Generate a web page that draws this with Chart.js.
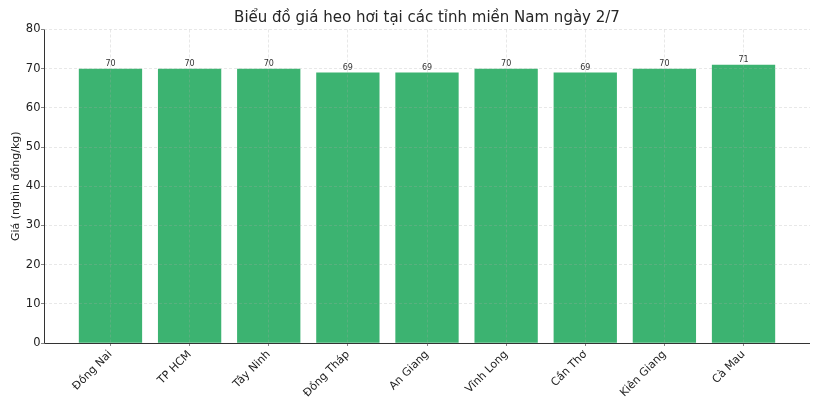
<!DOCTYPE html>
<html>
<head>
<meta charset="utf-8">
<script src="https://cdn.jsdelivr.net/npm/chart.js@4/dist/chart.umd.min.js"></script>
<style>
html,body{margin:0;padding:0;background:#fff;}
#c{display:block;}
</style>
</head>
<body>
<canvas id="c" width="820" height="410"></canvas>
<script>
const titleText = "Biểu đồ giá heo hơi tại các tỉnh miền Nam ngày 2/7";
const yAxisTitle = "Giá (nghìn đồng/kg)";
const provinces = ["Đồng Nai","TP HCM","Tây Ninh","Đồng Tháp","An Giang","Vĩnh Long","Cần Thơ","Kiên Giang","Cà Mau"];
const prices = [70,70,70,69,69,70,69,70,71];
const yTicks = [0,10,20,30,40,50,60,70,80];

const FONT = "'DejaVu Sans', sans-serif";
const points = provinces.map((p,i)=>({x:i, y:prices[i]}));

const valueLabels = {
  id:'valueLabels',
  afterDatasetsDraw(chart){
    const ctx = chart.ctx;
    const meta = chart.getDatasetMeta(0);
    ctx.save();
    ctx.font = "8px " + FONT;
    ctx.fillStyle = "#333";
    ctx.textAlign = "center";
    ctx.textBaseline = "bottom";
    meta.data.forEach((bar,i)=>{
      ctx.fillText(String(prices[i]), bar.x, bar.y - 1);
    });
    ctx.restore();
  }
};

const spines = {
  id:'spines',
  afterDraw(chart){
    const {ctx, chartArea:a} = chart;
    ctx.save();
    ctx.strokeStyle = '#333';
    ctx.lineWidth = 1;
    ctx.setLineDash([]);
    ctx.beginPath();
    ctx.moveTo(Math.round(a.left)+0.5, a.top);
    ctx.lineTo(Math.round(a.left)+0.5, Math.round(a.bottom)+0.5);
    ctx.lineTo(a.right, Math.round(a.bottom)+0.5);
    ctx.stroke();
    ctx.restore();
  }
};

new Chart(document.getElementById('c'), {
  type:'bar',
  data:{
    datasets:[{
      data: points,
      backgroundColor:'#3cb371',
      borderWidth:0,
      barPercentage:0.8,
      categoryPercentage:1.0
    }]
  },
  options:{
    responsive:false,
    animation:false,
    devicePixelRatio:1,
    layout:{padding:{left:0,right:10,top:0,bottom:0}},
    plugins:{
      legend:{display:false},
      tooltip:{enabled:false},
      title:{
        display:true,
        text:titleText,
        fullSize:false,
        color:'#262626',
        font:{family:FONT,size:15,weight:'normal'},
        padding:{top:9,bottom:2.5}
      }
    },
    scales:{
      x:{
        type:'linear',
        min:-0.84,
        max:8.84,
        offset:false,
        afterBuildTicks(axis){ axis.ticks = provinces.map((_,i)=>({value:i})); },
        afterFit(axis){ axis.height = 67; },
        ticks:{
          autoSkip:false,
          maxRotation:45,
          minRotation:45,
          padding:2,
          color:'#222',
          font:{family:FONT,size:11},
          callback:(v)=>provinces[v] !== undefined ? provinces[v] : ''
        },
        grid:{
          offset:false,
          z:1,
          color:'rgba(170,170,170,0.45)',
          lineWidth:0.6,
          drawTicks:true,
          tickLength:3,
          tickColor:'#333',
          tickBorderDash:[]
        },
        border:{display:false,dash:[3,2]}
      },
      y:{
        min:0,
        max:80,
        afterBuildTicks(axis){ axis.ticks = yTicks.map(v=>({value:v})); },
        afterFit(axis){ axis.width = 44; },
        ticks:{
          padding:0.5,
          color:'#222',
          font:{family:FONT,size:11.5}
        },
        title:{
          display:true,
          text:yAxisTitle,
          color:'#222',
          font:{family:FONT,size:11},
          padding:{top:10,bottom:2}
        },
        grid:{
          z:1,
          color:'rgba(170,170,170,0.45)',
          lineWidth:0.6,
          drawTicks:true,
          tickLength:3,
          tickColor:'#333',
          tickBorderDash:[]
        },
        border:{display:false,dash:[3,2]}
      }
    }
  },
  plugins:[valueLabels, spines]
});
</script>
</body>
</html>
